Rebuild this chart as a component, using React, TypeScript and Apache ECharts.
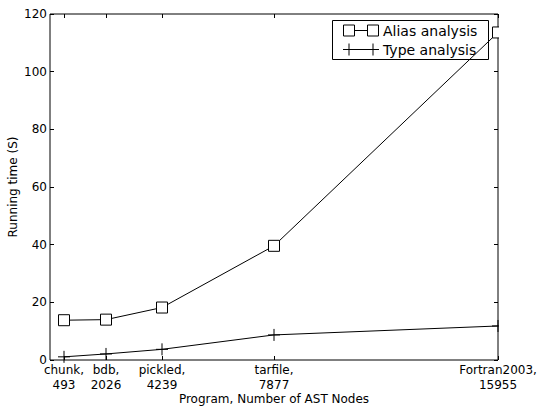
import React, { useEffect, useRef } from "react";
import * as echarts from "echarts";

const programs = ["chunk", "bdb", "pickled", "tarfile", "Fortran2003"];
const astNodes = [493, 2026, 4239, 7877, 15955];
const plotPositions = [500, 2000, 4000, 8000, 16000];
const aliasTimes = [13.8, 14.0, 18.2, 39.6, 113.6];
const typeTimes = [1.1, 2.1, 3.7, 8.7, 11.8];
const yTicks = [0, 20, 40, 60, 80, 100, 120];

const FONT = "DejaVu Sans";
const PLUS = "path://M5,0L5,10M0,5L10,5";

export default function App() {
  const ref = useRef<HTMLDivElement>(null);
  useEffect(() => {
    if (!ref.current) return;
    const chart = echarts.init(ref.current, null, { renderer: "svg" });
    const labelFor = (v: number) => {
      const i = plotPositions.indexOf(v);
      return i >= 0 ? `${programs[i]},\n${astNodes[i]}` : "";
    };
    const aliasData = plotPositions.map((x, i) => [x, aliasTimes[i]]);
    const typeData = plotPositions.map((x, i) => [x, typeTimes[i]]);
    const textStyle = { fontFamily: FONT, fontSize: 12, color: "#000" };
    const tick = { show: true, inside: true, length: 4, lineStyle: { color: "#000" } };
    const line = { show: false, onZero: false };
    chart.setOption({
      animation: false,
      textStyle: { fontFamily: FONT },
      grid: {
        left: 50,
        right: 41,
        top: 14,
        bottom: 46,
        containLabel: false,
        outerBoundsMode: "none",
        show: true,
        borderColor: "#000",
        borderWidth: 1,
        backgroundColor: "transparent",
      },
      xAxis: [
        {
          type: "value",
          min: 0,
          max: 16000,
          position: "bottom",
          name: "Program, Number of AST Nodes",
          nameLocation: "middle",
          nameGap: 33,
          nameMoveOverlap: false,
          nameTextStyle: textStyle,
          splitLine: { show: false },
          axisLine: line,
          axisTick: { ...tick, customValues: plotPositions },
          axisLabel: {
            customValues: plotPositions,
            formatter: (v: number) => labelFor(v),
            margin: 2,
            lineHeight: 15,
            showMinLabel: true,
            showMaxLabel: true,
            ...textStyle,
          },
        },
        {
          type: "value",
          min: 0,
          max: 16000,
          position: "top",
          splitLine: { show: false },
          axisLine: line,
          axisTick: { ...tick, customValues: plotPositions },
          axisLabel: { show: false },
        },
      ],
      yAxis: [
        {
          type: "value",
          min: 0,
          max: 120,
          interval: 20,
          position: "left",
          name: "Running time (S)",
          nameLocation: "middle",
          nameGap: 31,
          nameMoveOverlap: false,
          nameTextStyle: textStyle,
          splitLine: { show: false },
          axisLine: line,
          axisTick: { ...tick },
          axisLabel: {
            margin: 3,
            customValues: yTicks,
            ...textStyle,
          },
        },
        {
          type: "value",
          min: 0,
          max: 120,
          interval: 20,
          position: "right",
          splitLine: { show: false },
          axisLine: line,
          axisTick: { ...tick },
          axisLabel: { show: false },
        },
      ],
      series: [
        {
          name: "Alias analysis",
          type: "line",
          data: aliasData,
          symbol: "rect",
          symbolSize: 11,
          showAllSymbol: true,
          lineStyle: { color: "#000", width: 1 },
          itemStyle: { color: "#fff", borderColor: "#000", borderWidth: 1 },
          z: 3,
        },
        {
          name: "Type analysis",
          type: "line",
          data: typeData,
          symbol: PLUS,
          symbolSize: 12,
          showAllSymbol: true,
          lineStyle: { color: "#000", width: 1 },
          itemStyle: { color: "none", borderColor: "#000", borderWidth: 1 },
          z: 3,
        },
      ],
      graphic: [
        {
          type: "rect",
          shape: { x: 499, y: 0, width: 40, height: 359 },
          style: { fill: "#fff" },
          z: 50,
        },
        {
          type: "group",
          z: 100,
          children: [
            {
              type: "rect",
              shape: { x: 332.5, y: 20.5, width: 156, height: 39 },
              style: { fill: "#fff", stroke: "#000", lineWidth: 1 },
            },
            {
              type: "line",
              shape: { x1: 349, y1: 30.5, x2: 373, y2: 30.5 },
              style: { stroke: "#000", lineWidth: 1 },
            },
            {
              type: "rect",
              shape: { x: 343.5, y: 25, width: 11, height: 11 },
              style: { fill: "#fff", stroke: "#000", lineWidth: 1 },
            },
            {
              type: "rect",
              shape: { x: 367.5, y: 25, width: 11, height: 11 },
              style: { fill: "#fff", stroke: "#000", lineWidth: 1 },
            },
            {
              type: "text",
              x: 383,
              y: 30.5,
              style: { text: "Alias analysis", fontFamily: FONT, fontSize: 14, fill: "#000", verticalAlign: "middle", align: "left" },
            },
            {
              type: "line",
              shape: { x1: 343, y1: 49.5, x2: 379, y2: 49.5 },
              style: { stroke: "#000", lineWidth: 1 },
            },
            {
              type: "line",
              shape: { x1: 349, y1: 43.5, x2: 349, y2: 55.5 },
              style: { stroke: "#000", lineWidth: 1 },
            },
            {
              type: "line",
              shape: { x1: 373, y1: 43.5, x2: 373, y2: 55.5 },
              style: { stroke: "#000", lineWidth: 1 },
            },
            {
              type: "text",
              x: 383,
              y: 49.5,
              style: { text: "Type analysis", fontFamily: FONT, fontSize: 14, fill: "#000", verticalAlign: "middle", align: "left" },
            },
          ],
        },
      ],
    });
    return () => chart.dispose();
  }, []);
  return <div ref={ref} style={{ width: 539, height: 406, position: "absolute", left: 0, top: 0 }} />;
}
